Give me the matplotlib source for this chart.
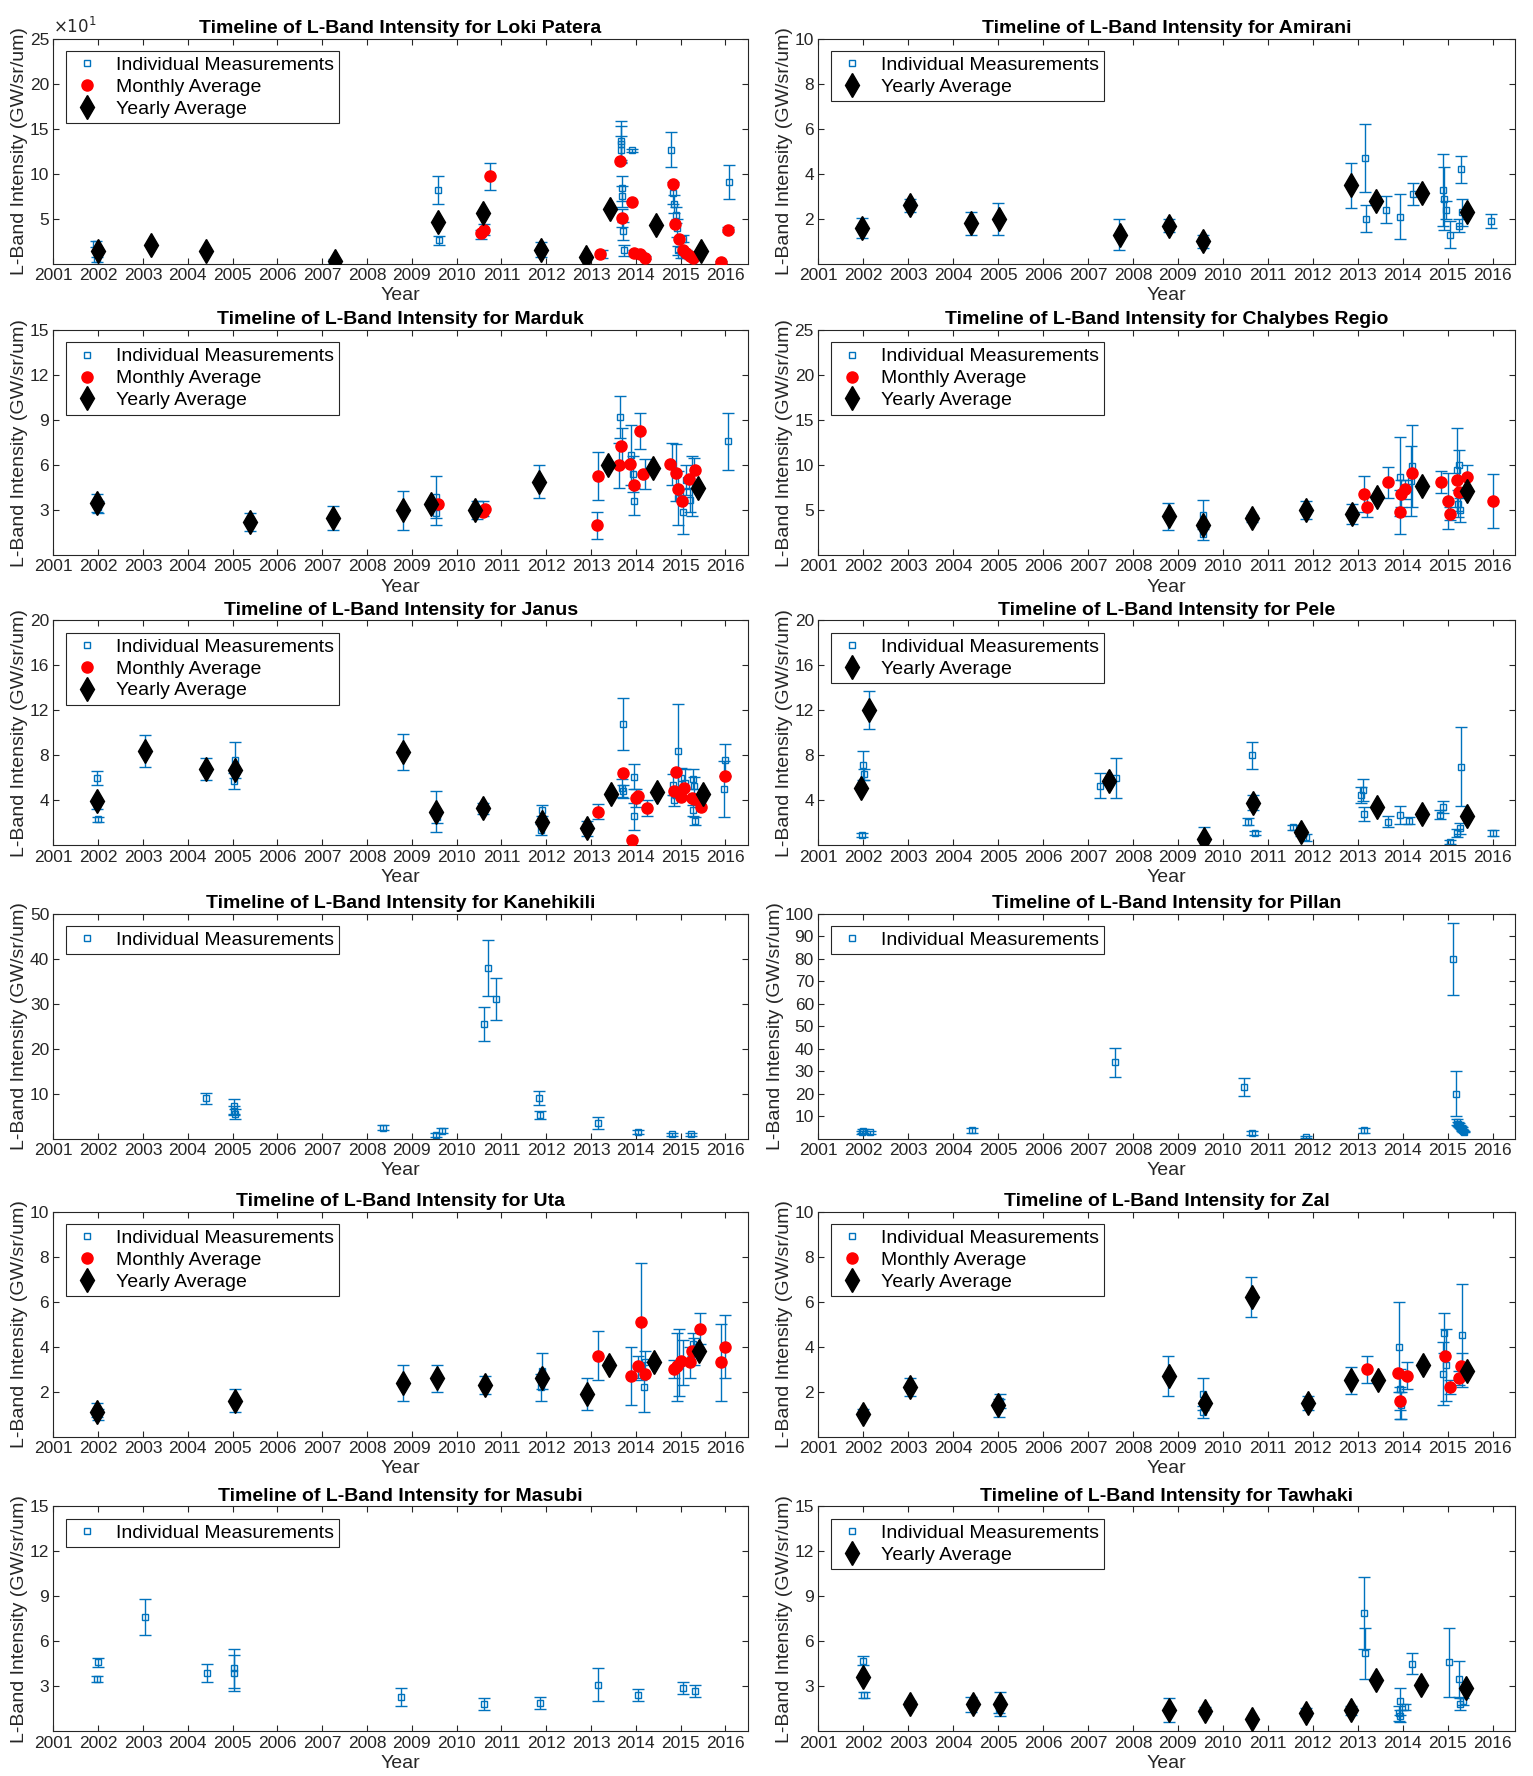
import matplotlib
matplotlib.use("Agg")

import matplotlib.pyplot as plt
from matplotlib.lines import Line2D
from matplotlib.ticker import FuncFormatter

plt.rcParams["font.family"] = ["Liberation Sans", "DejaVu Sans"]

BLUE = "#0072BD"
DARK = "#262626"

# ---- data: (year, value, error) for individual, (year, value) for averages ----
loki_ind = [(2001.95, 22, 3), (2001.97, 5, 3), (2007.27, 3, 2),
            (2009.58, 82, 16), (2009.6, 26, 5), (2010.55, 33, 5), (2010.62, 38, 6),
            (2010.75, 97, 15), (2011.88, 16, 8), (2013.25, 11, 4),
            (2013.66, 137, 22), (2013.67, 133, 20), (2013.68, 127, 15), (2013.7, 84, 14),
            (2013.7, 75, 12), (2013.7, 51, 10), (2013.72, 36, 10), (2013.73, 15, 6),
            (2013.92, 126, 2), (2013.95, 12, 3), (2014.1, 11, 2), (2014.2, 7, 2),
            (2014.79, 127, 19), (2014.83, 79, 12), (2014.86, 66, 10), (2014.9, 54, 9),
            (2014.93, 40, 10), (2014.95, 15, 5), (2015.0, 10, 3), (2015.05, 28, 4),
            (2015.12, 12, 3), (2015.2, 8, 2), (2015.3, 6, 2), (2015.9, 2, 1),
            (2016.05, 38, 3), (2016.08, 91, 19)]
loki_mon = [(2010.55, 34), (2010.62, 38), (2010.75, 98), (2013.2, 11), (2013.65, 114),
            (2013.7, 51), (2013.92, 69), (2013.97, 12), (2014.1, 11), (2014.2, 7),
            (2014.82, 89), (2014.88, 44), (2014.97, 28), (2015.05, 16), (2015.12, 12),
            (2015.2, 9), (2015.28, 7), (2015.9, 2), (2016.05, 38)]
loki_yr = [(2002.0, 14), (2003.18, 21), (2004.41, 14), (2007.29, 3), (2009.58, 47),
           (2010.59, 56), (2011.88, 16), (2012.89, 8), (2013.43, 61), (2014.45, 43),
           (2015.45, 14)]

amirani_ind = [(2001.97, 1.6, 0.45), (2003.05, 2.6, 0.3), (2004.4, 1.8, 0.5), (2005.0, 2.0, 0.7),
               (2007.7, 1.3, 0.7), (2008.8, 1.7, 0.3), (2009.55, 1.0, 0.3), (2012.85, 3.5, 1.0),
               (2013.16, 4.7, 1.5), (2013.18, 2.0, 0.6), (2013.64, 2.4, 0.6), (2013.94, 2.1, 1.0),
               (2014.22, 3.1, 0.5), (2014.89, 3.3, 1.6), (2014.92, 2.9, 1.4), (2014.97, 2.4, 0.4),
               (2015.05, 1.3, 0.6), (2015.25, 1.7, 0.3), (2015.3, 4.2, 0.6), (2015.32, 2.3, 0.6),
               (2015.96, 1.9, 0.3)]
amirani_yr = [(2001.97, 1.6), (2003.05, 2.6), (2004.4, 1.8), (2005.03, 2.0), (2007.72, 1.3),
              (2008.8, 1.7), (2009.55, 1.0), (2012.85, 3.5), (2013.4, 2.8), (2014.42, 3.15),
              (2015.42, 2.3)]

marduk_ind = [(2001.97, 3.5, 0.6), (2002.0, 3.2, 0.4), (2005.4, 2.2, 0.6), (2007.25, 2.5, 0.8),
              (2008.8, 3.0, 1.3), (2009.53, 3.9, 1.4), (2009.55, 2.8, 0.8), (2010.45, 3.0, 0.6),
              (2010.6, 3.1, 0.5), (2011.85, 4.9, 1.1), (2013.16, 5.3, 1.6), (2013.14, 2.0, 0.9),
              (2013.65, 9.2, 1.4), (2013.63, 6.0, 1.5), (2013.7, 7.3, 1.2), (2013.9, 6.7, 2.0),
              (2013.93, 5.4, 1.2), (2013.97, 3.6, 0.9), (2014.1, 8.3, 1.2), (2014.2, 5.4, 1.0),
              (2014.8, 6.1, 1.4), (2014.9, 5.5, 1.9), (2014.95, 3.8, 1.8), (2015.05, 2.9, 1.5),
              (2015.12, 5.0, 1.0), (2015.2, 3.7, 0.8), (2015.25, 4.6, 2.0), (2015.3, 5.7, 0.8),
              (2016.05, 7.6, 1.9)]
marduk_mon = [(2009.58, 3.4), (2010.58, 2.9), (2010.63, 3.1), (2013.16, 5.3), (2013.14, 2.0),
              (2013.63, 6.0), (2013.68, 7.3), (2013.87, 6.1), (2013.95, 4.7), (2014.1, 8.3),
              (2014.16, 5.4), (2014.77, 6.1), (2014.89, 5.5), (2014.95, 4.4), (2015.04, 3.6),
              (2015.18, 5.1), (2015.33, 5.7)]
marduk_yr = [(2001.97, 3.5), (2005.4, 2.2), (2007.25, 2.5), (2008.8, 3.0), (2009.42, 3.4),
             (2010.42, 3.0), (2011.85, 4.9), (2013.39, 6.0), (2014.39, 5.8), (2015.38, 4.5)]

chalybes_ind = [(2008.79, 4.3, 1.5), (2009.57, 4.5, 1.6), (2009.55, 2.4, 0.7), (2010.64, 4.1, 0.4),
                (2011.86, 5.0, 1.0), (2012.87, 4.6, 1.1), (2013.15, 6.8, 2.0), (2013.2, 5.4, 1.2),
                (2013.68, 8.1, 1.7), (2013.93, 8.7, 4.4), (2013.95, 4.8, 2.4), (2013.97, 6.8, 1.5),
                (2014.05, 7.3, 1.1), (2014.2, 9.9, 4.6), (2014.18, 8.2, 3.9), (2014.85, 8.1, 1.2),
                (2015.0, 6.0, 3.1), (2015.05, 4.6, 0.7), (2015.2, 9.5, 4.6), (2015.25, 10.0, 1.7),
                (2015.23, 5.7, 1.5), (2015.28, 5.0, 1.3), (2015.42, 8.7, 1.3), (2016.0, 6.0, 3.0)]
chalybes_mon = [(2013.15, 6.8), (2013.2, 5.4), (2013.68, 8.1), (2013.93, 4.8), (2013.97, 6.8),
                (2014.05, 7.3), (2014.2, 9.1), (2014.85, 8.1), (2015.0, 6.0), (2015.05, 4.6),
                (2015.2, 8.4), (2015.25, 7.0), (2015.42, 8.7), (2016.0, 6.0)]
chalybes_yr = [(2008.8, 4.3), (2009.57, 3.4), (2010.64, 4.1), (2011.86, 5.0), (2012.87, 4.6),
               (2013.44, 6.5), (2014.43, 7.7), (2015.42, 7.1)]

janus_ind = [(2001.97, 6.0, 0.6), (2001.98, 3.5, 0.3), (2001.99, 2.3, 0.25), (2003.05, 8.4, 1.4),
             (2004.4, 6.8, 1.0), (2005.05, 7.6, 1.6), (2005.03, 5.7, 0.7), (2008.8, 8.3, 1.6),
             (2009.55, 3.0, 1.8), (2009.57, 2.5, 0.5), (2010.6, 3.3, 0.5), (2011.9, 3.1, 0.5),
             (2011.88, 1.4, 0.5), (2012.9, 1.5, 0.7), (2013.15, 3.0, 0.7), (2013.71, 10.8, 2.3),
             (2013.7, 5.1, 0.8), (2013.72, 4.8, 0.6), (2013.95, 6.1, 1.1), (2013.97, 2.6, 1.2),
             (2014.0, 4.2, 0.8), (2014.25, 3.3, 0.7), (2014.82, 5.4, 0.9), (2014.85, 4.0, 0.5),
             (2014.95, 8.4, 4.2), (2015.0, 6.0, 0.9), (2015.1, 5.5, 1.3), (2015.27, 5.9, 0.9),
             (2015.3, 5.3, 0.8), (2015.28, 3.1, 0.5), (2015.33, 2.2, 0.35), (2016.0, 7.6, 1.4),
             (2015.98, 5.0, 2.5)]
janus_mon = [(2013.15, 3.0), (2013.71, 6.4), (2013.91, 0.5), (2014.0, 4.2), (2014.05, 4.4),
             (2014.25, 3.3), (2014.85, 4.8), (2014.89, 6.5), (2015.0, 4.3), (2015.08, 5.1),
             (2015.25, 4.2), (2015.3, 4.1), (2015.45, 3.4), (2016.0, 6.2)]
janus_yr = [(2001.97, 3.9), (2003.05, 8.4), (2004.4, 6.8), (2005.05, 6.7), (2008.8, 8.3),
            (2009.55, 3.0), (2010.6, 3.3), (2011.9, 2.1), (2012.9, 1.5), (2013.44, 4.6),
            (2014.48, 4.7), (2015.49, 4.6)]

pele_ind = [(2002.0, 7.1, 1.3), (2002.02, 6.3, 0.5), (2001.98, 0.9, 0.2), (2002.13, 12.0, 1.7),
            (2007.27, 5.3, 1.1), (2007.62, 6.0, 1.8), (2009.58, 0.6, 1.0), (2010.55, 2.1, 0.3),
            (2010.65, 8.0, 1.2), (2010.67, 3.8, 0.7), (2010.72, 1.1, 0.2), (2011.57, 1.6, 0.2),
            (2011.73, 1.1, 0.3), (2011.85, 0.7, 0.3), (2013.08, 4.5, 0.7), (2013.12, 4.9, 1.0),
            (2013.14, 2.8, 0.6), (2013.67, 2.1, 0.5), (2013.93, 2.7, 0.8), (2014.15, 2.2, 0.3),
            (2014.83, 2.7, 0.4), (2014.9, 3.4, 0.5), (2015.05, 0.3, 0.2), (2015.2, 1.1, 0.35),
            (2015.28, 1.5, 0.5), (2015.3, 7.0, 3.5), (2016.02, 1.1, 0.25)]
pele_yr = [(2001.96, 5.1), (2002.13, 12.0), (2007.46, 5.7), (2009.58, 0.6), (2010.67, 3.8),
           (2011.73, 1.2), (2013.43, 3.4), (2014.43, 2.8), (2015.42, 2.6)]

kanehikili_ind = [(2004.41, 9.0, 1.25), (2005.03, 7.2, 1.7), (2005.04, 6.2, 1.0), (2005.05, 5.5, 1.1),
                  (2008.36, 2.5, 0.5), (2009.55, 0.8, 0.4), (2009.67, 1.8, 0.5),
                  (2010.62, 25.4, 3.75), (2010.71, 38.0, 6.2), (2010.89, 31.0, 4.6),
                  (2011.85, 9.0, 1.55), (2011.86, 5.3, 0.8), (2013.15, 3.5, 1.3),
                  (2014.04, 1.5, 0.45), (2014.81, 1.0, 0.3), (2015.24, 1.0, 0.3)]

pillan_ind = [(2002.0, 3.3, 0.9), (2001.98, 2.8, 0.5), (2002.15, 2.9, 0.6), (2004.42, 3.8, 1.2),
              (2007.61, 34.0, 6.5), (2010.48, 23.0, 4.0), (2010.64, 2.5, 1.0), (2011.85, 0.8, 0.4),
              (2013.14, 3.8, 1.2), (2015.12, 80.0, 16.0), (2015.19, 20.0, 10.0),
              (2015.2, 7.5, 1.2), (2015.22, 6.5, 1.0), (2015.25, 6.0, 0.8), (2015.27, 5.5, 0.8),
              (2015.29, 5.0, 0.7), (2015.31, 4.5, 0.6), (2015.33, 4.0, 0.5), (2015.35, 3.5, 0.5),
              (2015.37, 3.2, 0.4)]

uta_ind = [(2001.97, 1.2, 0.3), (2001.99, 1.0, 0.25), (2005.05, 1.6, 0.5), (2008.8, 2.4, 0.8),
           (2009.57, 2.6, 0.6), (2010.63, 2.3, 0.4), (2011.9, 2.9, 0.8), (2011.88, 2.2, 0.6),
           (2012.9, 1.9, 0.7), (2013.15, 3.6, 1.1), (2013.9, 2.7, 1.3), (2014.05, 3.1, 0.5),
           (2014.12, 5.1, 2.6), (2014.18, 2.2, 1.1), (2014.2, 3.3, 0.5), (2014.85, 3.0, 0.4),
           (2014.93, 3.1, 1.5), (2014.97, 3.3, 1.5), (2015.05, 3.3, 1.0), (2015.2, 3.3, 0.7),
           (2015.27, 4.1, 0.5), (2015.3, 3.8, 0.6), (2015.43, 4.8, 0.7), (2015.9, 3.3, 1.7),
           (2016.0, 4.0, 1.4)]
uta_mon = [(2013.15, 3.6), (2013.9, 2.7), (2014.05, 3.15), (2014.12, 5.1), (2014.2, 2.8),
           (2014.85, 3.0), (2014.92, 3.15), (2015.0, 3.35), (2015.2, 3.3), (2015.25, 3.8),
           (2015.43, 4.8), (2015.9, 3.3), (2016.0, 4.0)]
uta_yr = [(2001.97, 1.1), (2005.05, 1.6), (2008.8, 2.4), (2009.57, 2.6), (2010.63, 2.3),
          (2011.9, 2.6), (2012.9, 1.9), (2013.41, 3.2), (2014.41, 3.3), (2015.41, 3.8)]

zal_ind = [(2002.0, 1.1, 0.15), (2003.05, 2.2, 0.4), (2005.05, 1.6, 0.3), (2005.03, 1.3, 0.4),
           (2008.78, 2.7, 0.9), (2009.57, 1.9, 0.7), (2009.55, 1.1, 0.25), (2010.63, 6.2, 0.9),
           (2011.9, 1.5, 0.3), (2012.85, 2.5, 0.6), (2013.2, 3.0, 0.6), (2013.92, 4.0, 2.0),
           (2013.93, 2.1, 0.9), (2013.95, 1.5, 0.7), (2013.97, 1.4, 0.6), (2014.1, 2.7, 0.6),
           (2014.92, 4.6, 0.9), (2014.9, 2.8, 1.4), (2014.97, 3.2, 1.6), (2015.05, 2.2, 0.3),
           (2015.25, 2.6, 0.3), (2015.31, 4.5, 2.3), (2015.33, 3.1, 0.6)]
zal_mon = [(2013.2, 3.0), (2013.9, 2.85), (2013.95, 1.6), (2014.1, 2.7), (2014.95, 3.6),
           (2015.05, 2.2), (2015.25, 2.6), (2015.3, 3.15)]
zal_yr = [(2002.0, 1.0), (2003.05, 2.2), (2005.0, 1.4), (2008.8, 2.7), (2009.6, 1.5),
          (2010.65, 6.2), (2011.9, 1.5), (2012.85, 2.5), (2013.45, 2.5), (2014.45, 3.2),
          (2015.42, 2.9)]

masubi_ind = [(2002.0, 4.6, 0.3), (2001.98, 3.5, 0.2), (2003.05, 7.6, 1.2), (2004.42, 3.9, 0.6),
              (2005.03, 4.2, 1.3), (2005.04, 3.9, 1.2), (2008.77, 2.3, 0.6), (2010.62, 1.8, 0.4),
              (2011.86, 1.9, 0.4), (2013.15, 3.1, 1.1), (2014.06, 2.4, 0.4), (2015.05, 2.9, 0.4),
              (2015.33, 2.7, 0.4)]

tawhaki_ind = [(2002.0, 4.7, 0.3), (2002.01, 2.4, 0.2), (2003.05, 1.8, 0.2), (2004.4, 1.8, 0.5),
               (2005.05, 1.8, 0.8), (2005.03, 1.5, 0.3), (2008.8, 1.4, 0.8), (2009.6, 1.4, 0.25),
               (2010.65, 0.8, 0.1), (2011.85, 1.3, 0.25), (2012.85, 1.4, 0.3), (2013.14, 7.9, 2.4),
               (2013.16, 5.2, 1.7), (2013.93, 2.0, 0.9), (2013.92, 1.2, 0.5), (2013.95, 1.0, 0.4),
               (2014.05, 1.6, 0.2), (2014.2, 4.5, 0.7), (2015.02, 4.6, 2.3), (2015.26, 3.5, 1.2),
               (2015.28, 1.8, 0.4), (2015.35, 2.0, 0.25)]
tawhaki_yr = [(2002.0, 3.6), (2003.05, 1.8), (2004.45, 1.85), (2005.05, 1.8), (2008.8, 1.4),
              (2009.6, 1.35), (2010.65, 0.8), (2011.85, 1.25), (2012.85, 1.4), (2013.4, 3.45),
              (2014.4, 3.1), (2015.4, 2.9)]

# name, individual, monthly, yearly, ymax, ystep
panels = [
    ("Loki Patera", loki_ind, loki_mon, loki_yr, 250, 50),
    ("Amirani", amirani_ind, None, amirani_yr, 10, 2),
    ("Marduk", marduk_ind, marduk_mon, marduk_yr, 15, 3),
    ("Chalybes Regio", chalybes_ind, chalybes_mon, chalybes_yr, 25, 5),
    ("Janus", janus_ind, janus_mon, janus_yr, 20, 4),
    ("Pele", pele_ind, None, pele_yr, 20, 4),
    ("Kanehikili", kanehikili_ind, None, None, 50, 10),
    ("Pillan", pillan_ind, None, None, 100, 10),
    ("Uta", uta_ind, uta_mon, uta_yr, 10, 2),
    ("Zal", zal_ind, zal_mon, zal_yr, 10, 2),
    ("Masubi", masubi_ind, None, None, 15, 3),
    ("Tawhaki", tawhaki_ind, None, tawhaki_yr, 15, 3),
]

col_left = [0.0348, 0.5337]
col_width = [0.4530, 0.4546]
row_bottom = [0.8514, 0.6874, 0.5240, 0.3588, 0.1910, 0.0251]
row_height = 0.1268


def draw_panel(ax, name, ind, mon, yr, ymax, ystep):
    t = [p[0] for p in ind]
    v = [p[1] for p in ind]
    e = [p[2] for p in ind]
    ax.errorbar(t, v, yerr=e, fmt="s", ms=4.5, mfc="none", mec=BLUE, mew=1.0,
                ecolor=BLUE, elinewidth=1.0, capsize=4, capthick=1.0, zorder=2)
    handles = [Line2D([], [], ls="none", marker="s", ms=4.5, mfc="none",
                      mec=BLUE, mew=1.0, label="Individual Measurements")]
    if mon:
        ax.plot([p[0] for p in mon], [p[1] for p in mon], "o", color="red",
                ms=8, mec="red", zorder=3)
        handles.append(Line2D([], [], ls="none", marker="o", color="red", ms=8,
                              label="Monthly Average"))
    if yr:
        ax.plot([p[0] for p in yr], [p[1] for p in yr], "d", color="black",
                ms=12, zorder=4)
        handles.append(Line2D([], [], ls="none", marker="d", color="black", ms=12,
                              label="Yearly Average"))

    ax.set_xlim(2001, 2016.5)
    ax.set_ylim(0, ymax)
    ax.set_xticks(range(2001, 2017))
    ax.set_yticks(range(ystep, ymax + 1, ystep))
    ax.tick_params(direction="in", top=True, right=True, length=4, width=0.8,
                   labelsize=12.5, colors=DARK, pad=3)
    for s in ax.spines.values():
        s.set_color(DARK)
        s.set_linewidth(0.8)
    ax.set_title("Timeline of L-Band Intensity for " + name, fontsize=14,
                 fontweight="bold", pad=4)
    ax.set_xlabel("Year", fontsize=14, labelpad=3, color=DARK)
    ax.set_ylabel("L-Band Intensity (GW/sr/um)", fontsize=14, labelpad=1, color=DARK)

    leg = ax.legend(handles=handles, loc="upper left", bbox_to_anchor=(0.018, 0.945),
                    borderaxespad=0, fontsize=14, fancybox=False, framealpha=1,
                    edgecolor=DARK, handlelength=1.6, handletextpad=0.7,
                    labelspacing=0.22, borderpad=0.28)
    leg.get_frame().set_linewidth(0.8)
    return ax


fig = plt.figure(figsize=(15.33, 17.76), dpi=100)

for i, (name, ind, mon, yr, ymax, ystep) in enumerate(panels):
    r, c = divmod(i, 2)
    ax = fig.add_axes([col_left[c], row_bottom[r], col_width[c], row_height])
    draw_panel(ax, name, ind, mon, yr, ymax, ystep)
    if name == "Loki Patera":
        # MATLAB style exponent on the y axis
        ax.yaxis.set_major_formatter(FuncFormatter(lambda y, pos: "%g" % (y / 10)))
        ax.text(0.0, 1.012, r"$\times10^{1}$", transform=ax.transAxes,
                fontsize=12, color=DARK, va="bottom", ha="left")

fig.savefig("out.png", dpi=100)
